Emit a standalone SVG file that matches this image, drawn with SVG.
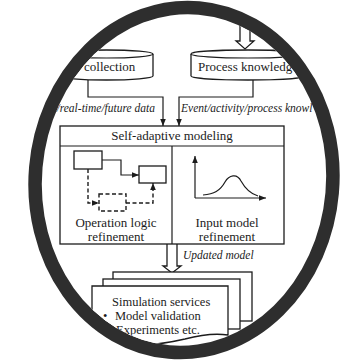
<svg xmlns="http://www.w3.org/2000/svg" width="352" height="361" viewBox="0 0 352 361">
<style>
.t{font-family:"Liberation Serif","Times New Roman",serif;fill:#1c1c1c}
.s13{font-size:13px}
.s12{font-size:12.5px}
.it{font-style:italic;font-size:11.5px}
.ln{fill:none;stroke:#1c1c1c;stroke-width:1.2}
.bx{fill:#fff;stroke:#1c1c1c;stroke-width:1.3}
.ds{fill:none;stroke:#1c1c1c;stroke-width:1.4;stroke-dasharray:4 2.5}
</style>
<defs>
<marker id="ah" viewBox="0 0 10 10" refX="10" refY="5" markerWidth="7" markerHeight="7" orient="auto-start-reverse" markerUnits="userSpaceOnUse"><path d="M0,1 L10,5 L0,9 Z" fill="#1c1c1c"/></marker>
<ellipse id="lensPath" cx="184" cy="180" rx="142" ry="166" transform="rotate(5 184 180)"/>
<clipPath id="lens"><use href="#lensPath"/></clipPath>
</defs>
<rect x="0" y="0" width="352" height="361" fill="#fff"/>
<g id="ring">
<use href="#lensPath" fill="none" stroke="#2e2e2e" stroke-width="27"/>
<use href="#lensPath" fill="#fff"/>
</g>
<g id="content" clip-path="url(#lens)">
<g id="connectors">
<path class="ln" d="M88,80 V97 H163 V126" marker-end="url(#ah)"/>
<path class="ln" d="M253,80 V97 H179 V126" marker-end="url(#ah)"/>
<path class="bx" d="M240,-5 V41 H236 L245,49 L254,41 H250 V-5"/>
<path class="bx" d="M167,244 V266 H163 L172,273 L181,266 H177 V244"/>
</g>
<g id="data-collection">
<path class="bx" d="M60,54 A46.5,4 0 0 1 153,54 V76 A46.5,4 0 0 1 60,76 Z"/>
<path class="ln" d="M60,54 A46.5,4 0 0 0 153,54"/>
<text class="t s13" x="84" y="71">collection</text>
</g>
<g id="process-knowledge">
<path class="bx" d="M191,54 A57,4 0 0 1 305,54 V76 A57,4 0 0 1 191,76 Z"/>
<path class="ln" d="M191,54 A57,4 0 0 0 305,54"/>
<text class="t s13" x="198" y="71">Process knowledg</text>
</g>
<g id="labels">
<text class="t it" x="155" y="112" text-anchor="end">t/real-time/future data</text>
<text class="t it" x="181" y="112">Event/activity/process knowl</text>
<text class="t it" x="183" y="259">Updated model</text>
</g>
<g id="self-adaptive-modeling">
<rect class="bx" x="60" y="126" width="224" height="118"/>
<path class="ln" d="M60,146 H284 M172,146 V244"/>
<text class="t s13" x="172" y="140" text-anchor="middle">Self-adaptive modeling</text>
</g>
<g id="operation-logic">
<rect class="bx" x="74" y="151" width="28" height="18"/>
<rect class="bx" x="139" y="166" width="27" height="17"/>
<path class="ln" d="M102,160 H121 V175 H139" marker-end="url(#ah)"/>
<path class="ds" d="M88,169 V203 H99" marker-end="url(#ah)"/>
<rect class="ds" x="99" y="194" width="27" height="17"/>
<path class="ds" d="M126,203 H153 V183" marker-end="url(#ah)"/>
<text class="t s13" x="116" y="227" text-anchor="middle">Operation logic</text>
<text class="t s13" x="116" y="241" text-anchor="middle">refinement</text>
</g>
<g id="input-model">
<path class="ln" d="M195,198 V156" marker-end="url(#ah)"/>
<path class="ln" d="M195,198 H266" marker-end="url(#ah)"/>
<path class="ln" d="M203,195 C214,194 220,191 225,182 C229,175 237,173 241,181 C246,190 251,194 258,196"/>
<text class="t s13" x="227" y="227" text-anchor="middle">Input model</text>
<text class="t s13" x="227" y="241" text-anchor="middle">refinement</text>
</g>
<g id="simulation-services">
<rect class="bx" x="113" y="272" width="139" height="49"/>
<rect class="bx" x="103" y="279" width="137" height="50"/>
<path class="bx" d="M92,286 H228 V335 C214,333 200,335 185,339 C160,345 130,348 92,343 Z"/>
<text class="t s12" x="112" y="306">Simulation services</text>
<text class="t s12" x="103" y="320">•</text>
<text class="t s12" x="115" y="320">Model validation</text>
<text class="t s12" x="116" y="334">Experiments etc.</text>
</g>
</g>
</svg>
